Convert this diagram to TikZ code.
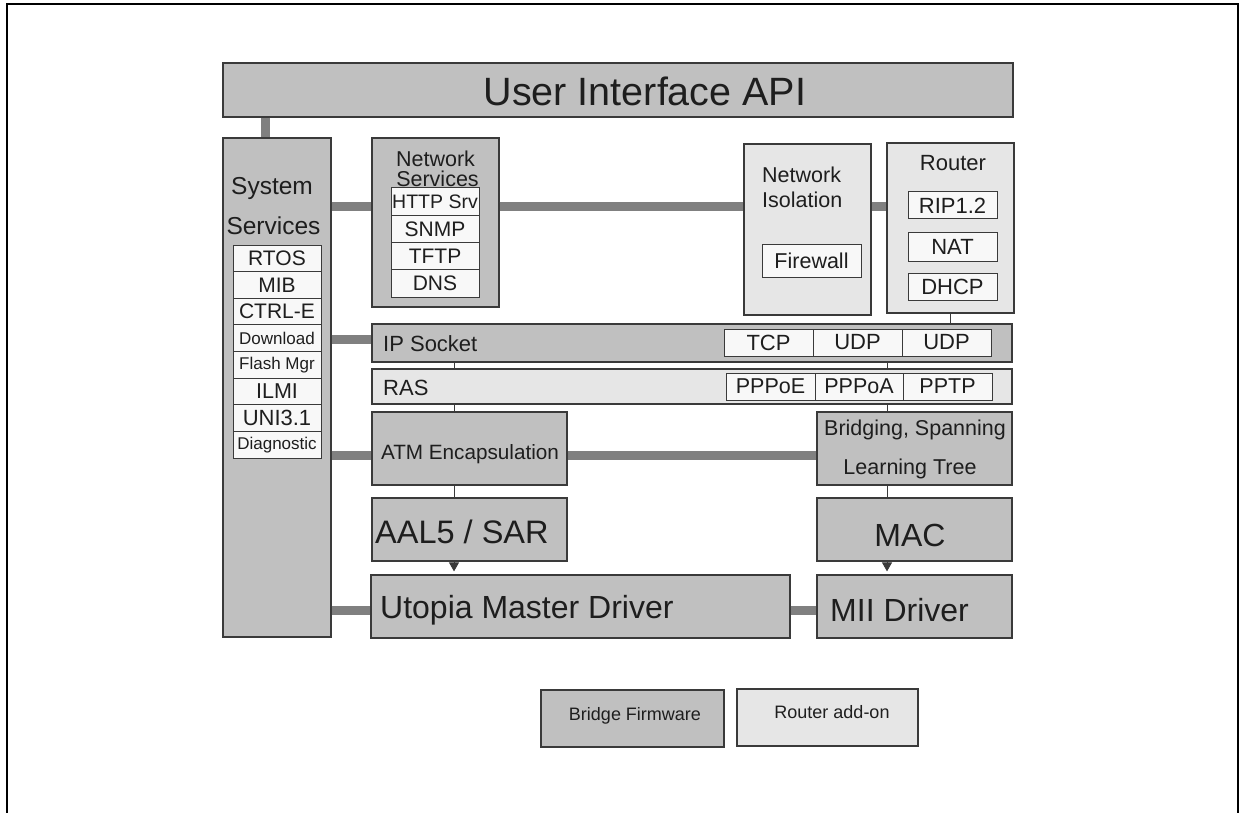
\documentclass[tikz,border=0pt]{standalone}
\usepackage{fontspec}
\setmainfont{Liberation Sans}
\usetikzlibrary{arrows.meta}
\definecolor{fwgray}{HTML}{C0C0C0}
\definecolor{addongray}{HTML}{E6E6E6}
\definecolor{itemwhite}{HTML}{F8F8F8}
\definecolor{busgray}{HTML}{808080}
\definecolor{edgegray}{HTML}{3A3A3A}
\definecolor{inkgray}{HTML}{1E1E1E}
\newcommand{\fsz}[1]{\fontsize{#1}{#1}\selectfont}

\tikzset{
  fwbox/.style={draw=edgegray, line width=1.2pt, fill=fwgray, inner sep=0pt},
  addonbox/.style={fwbox, fill=addongray},
  itembox/.style={draw=edgegray, line width=1pt, fill=itemwhite, inner sep=0pt, text=inkgray},
  lbl/.style={inner sep=0pt, text=inkgray},
  bus/.style={draw=busgray, line width=9pt},
  link/.style={draw=edgegray, line width=0.9pt},
}

\begin{document}
\begin{tikzpicture}[x=1pt, y=-1pt]
	%%%%% frame %%%%%
	\useasboundingbox (0,0) rectangle (1242,813);
	\draw[line width=2pt] (7,830) -- (7,4) -- (1237.5,4) -- (1237.5,830);
	
	\def\listw{88pt}
	\def\listh{26.6pt}
	\def\nsh{27.25pt}
	
	%%%%% big blocks %%%%%
	\node[fwbox, minimum width=790pt, minimum height=54pt] (uiapi) at (618,90) {};
	\node[fwbox, minimum width=108pt, minimum height=499pt] (syssrv) at (277,387.5) {};
	\node[fwbox, minimum width=127pt, minimum height=169pt] (netsrv) at (435.5,222.5) {};
	\node[addonbox, minimum width=127pt, minimum height=171pt] (netiso) at (807.5,229.5) {};
	\node[addonbox, minimum width=127pt, minimum height=170pt] (router) at (950.5,228) {};
	\node[fwbox, minimum width=640pt, minimum height=38pt] (ipsock) at (692,343) {};
	\node[addonbox, minimum width=640pt, minimum height=35pt] (ras) at (692,386.5) {};
	\node[fwbox, minimum width=195pt, minimum height=73pt] (atmenc) at (469.5,448.5) {};
	\node[fwbox, minimum width=195pt, minimum height=73pt] (bridging) at (914.5,448.5) {};
	\node[fwbox, minimum width=195pt, minimum height=63pt] (aal) at (469.5,529.5) {};
	\node[fwbox, minimum width=195pt, minimum height=63pt] (mac) at (914.5,529.5) {};
	\node[fwbox, minimum width=419pt, minimum height=63pt] (utopia) at (580.5,606.5) {};
	\node[fwbox, minimum width=195pt, minimum height=63pt] (mii) at (914.5,606.5) {};
	
	%%%%% labels of big blocks %%%%%
	\node[lbl, font=\fsz{39.5}] (uilbl) at (645,91) {User Interface API};
	\node[lbl, font=\fsz{24.5}] (syslbla) at (272,188) {System};
	\node[lbl, font=\fsz{24.5}] (syslblb) at (273.5,226) {Services};
	\node[lbl, font=\fsz{21.5}] (netlbla) at (435.5,159) {Network};
	\node[lbl, font=\fsz{21.5}] (netlblb) at (437.5,179) {Services};
	\node[lbl, font=\fsz{21.5}, anchor=west] (isolbla) at (762,175) {Network};
	\node[lbl, font=\fsz{21.5}, anchor=west] (isolblb) at (762,200) {Isolation};
	\node[lbl, font=\fsz{22}] (routlbl) at (953,163) {Router};
	\node[lbl, font=\fsz{22}, anchor=west] (iplbl) at (383,344) {IP Socket};
	\node[lbl, font=\fsz{22}, anchor=west] (raslbl) at (383,388) {RAS};
	\node[lbl, font=\fsz{20.7}] (atmlbl) at (470,454) {ATM Encapsulation};
	\node[lbl, font=\fsz{21.5}] (brlbla) at (915,430) {Bridging, Spanning};
	\node[lbl, font=\fsz{21.5}] (brlblb) at (910,469) {Learning Tree};
	\node[lbl, font=\fsz{32.5}, anchor=west] (aallbl) at (375,532) {AAL5 / SAR};
	\node[lbl, font=\fsz{32}] (maclbl) at (910,535) {MAC};
	\node[lbl, font=\fsz{32}, anchor=west] (utolbl) at (380,610) {Utopia Master Driver};
	\node[lbl, font=\fsz{32}, anchor=west] (miilbl) at (830,610) {MII Driver};
	
	%system services list
	\node[itembox, minimum width=\listw, minimum height=\listh, font=\fsz{21}] (rtos) at (277,258.3) {RTOS};
	\node[itembox, minimum width=\listw, minimum height=\listh, font=\fsz{21}] (mib) at (277,284.9) {MIB};
	\node[itembox, minimum width=\listw, minimum height=\listh, font=\fsz{21}] (ctrle) at (277,311.6) {CTRL-E};
	\node[itembox, minimum width=\listw, minimum height=\listh, font=\fsz{17}] (dload) at (277,338.2) {Download};
	\node[itembox, minimum width=\listw, minimum height=\listh, font=\fsz{17}] (flash) at (277,364.8) {Flash Mgr};
	\node[itembox, minimum width=\listw, minimum height=\listh, font=\fsz{21.5}] (ilmi) at (277,391.4) {ILMI};
	\node[itembox, minimum width=\listw, minimum height=\listh, font=\fsz{22}] (uni) at (277,418.1) {UNI3.1};
	\node[itembox, minimum width=\listw, minimum height=\listh, font=\fsz{17}] (diag) at (277,444.7) {Diagnostic};
	
	%network services list
	\node[itembox, minimum width=\listw, minimum height=\nsh, font=\fsz{19.5}] (http) at (435,201.6) {HTTP Srv};
	\node[itembox, minimum width=\listw, minimum height=\nsh, font=\fsz{21}] (snmp) at (435,228.9) {SNMP};
	\node[itembox, minimum width=\listw, minimum height=\nsh, font=\fsz{21}] (tftp) at (435,256.1) {TFTP};
	\node[itembox, minimum width=\listw, minimum height=\nsh, font=\fsz{21}] (dns) at (435,283.4) {DNS};
	
	%isolation + router
	\node[itembox, minimum width=99pt, minimum height=33pt, font=\fsz{21.5}] (firewall) at (811.5,260.5) {Firewall};
	\node[itembox, minimum width=89pt, minimum height=27pt, font=\fsz{22}] (rip) at (952.5,205.5) {RIP1.2};
	\node[itembox, minimum width=89pt, minimum height=28pt, font=\fsz{22}] (nat) at (952.5,247) {NAT};
	\node[itembox, minimum width=89pt, minimum height=27pt, font=\fsz{22}] (dhcp) at (952.5,286.5) {DHCP};
	
	%transport + ras
	\node[itembox, minimum width=89pt, minimum height=27pt, font=\fsz{22}] (tcp) at (768.5,342.5) {TCP};
	\node[itembox, minimum width=89pt, minimum height=27pt, font=\fsz{22}] (udpa) at (857.5,342.5) {UDP};
	\node[itembox, minimum width=89pt, minimum height=27pt, font=\fsz{22}] (udpb) at (946.5,342.5) {UDP};
	\node[itembox, minimum width=89pt, minimum height=27pt, font=\fsz{21.5}] (pppoe) at (770.5,386.5) {PPPoE};
	\node[itembox, minimum width=88pt, minimum height=27pt, font=\fsz{21.5}] (pppoa) at (859,386.5) {PPPoA};
	\node[itembox, minimum width=89pt, minimum height=27pt, font=\fsz{21.5}] (pptp) at (947.5,386.5) {PPTP};
	
	%%%%% buses %%%%%
	\coordinate (uitap) at (265,0);
	\coordinate (ybusa) at (0,207);
	\coordinate (ybusb) at (0,339);
	\coordinate (ybusc) at (0,455);
	\coordinate (ybusd) at (0,610);
	\draw[bus] (uiapi.south -| uitap) -- (syssrv.north -| uitap);
	\draw[bus] (syssrv.east |- ybusa) -- (netsrv.west |- ybusa);
	\draw[bus] (netsrv.east |- ybusa) -- (netiso.west |- ybusa);
	\draw[bus] (netiso.east |- ybusa) -- (router.west |- ybusa);
	\draw[bus] (syssrv.east |- ybusb) -- (ipsock.west |- ybusb);
	\draw[bus] (syssrv.east |- ybusc) -- (atmenc.west |- ybusc);
	\draw[bus] (atmenc.east |- ybusc) -- (bridging.west |- ybusc);
	\draw[bus] (syssrv.east |- ybusd) -- (utopia.west |- ybusd);
	\draw[bus] (utopia.east |- ybusd) -- (mii.west |- ybusd);
	
	%%%%% thin links %%%%%
	\coordinate (atmx) at (454,0);
	\coordinate (brx) at (887,0);
	\draw[link] (router.south) -- (router.south |- ipsock.north);
	\draw[link] (ipsock.south -| atmx) -- (ras.north -| atmx);
	\draw[link] (ipsock.south -| brx) -- (ras.north -| brx);
	\draw[link] (ras.south -| atmx) -- (atmenc.north -| atmx);
	\draw[link] (ras.south -| brx) -- (bridging.north -| brx);
	\draw[link] (atmenc.south -| atmx) -- (aal.north -| atmx);
	\draw[link] (bridging.south -| brx) -- (mac.north -| brx);
	\draw[link, -{Triangle[width=10pt,length=9pt]}, shorten >=3pt] (aal.south -| atmx) -- (utopia.north -| atmx);
	\draw[link, -{Triangle[width=10pt,length=9pt]}, shorten >=3pt] (mac.south -| brx) -- (mii.north -| brx);
	
	%%%%% legend %%%%%
	\node[fwbox, minimum width=183pt, minimum height=57pt] (legfw) at (632.5,718.5) {};
	\node[addonbox, minimum width=181pt, minimum height=57pt] (legadd) at (827.5,717.5) {};
	\node[lbl, font=\fsz{18}] (legfwlbl) at (635,716) {Bridge Firmware};
	\node[lbl, font=\fsz{18}] (legaddlbl) at (832,712) {Router add-on};
\end{tikzpicture}
\end{document}
